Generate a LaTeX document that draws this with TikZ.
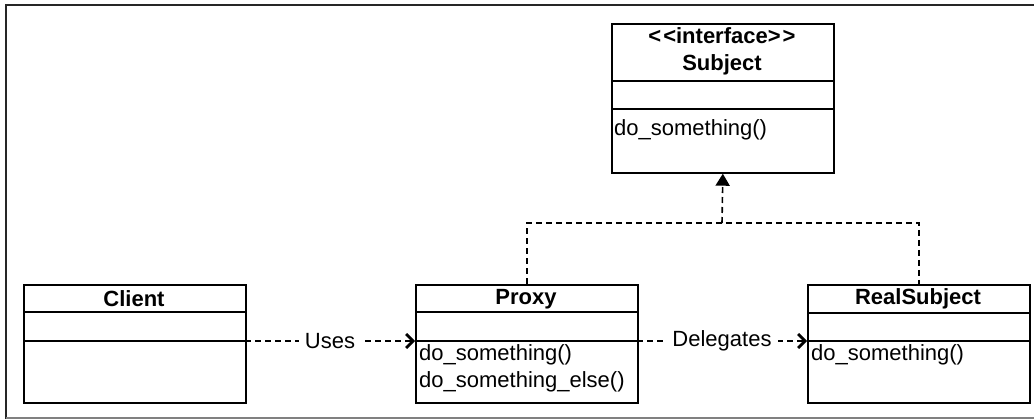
\documentclass[tikz,border=0pt]{standalone}
\usepackage{fontspec}
\setmainfont{Liberation Sans}
\usetikzlibrary{arrows.meta}

\tikzstyle{classbox} = [draw=black, line width=1.7pt, inner sep=0, minimum width=222pt, minimum height=118pt, anchor=north west]
\tikzstyle{title} = [font=\fontsize{22}{27}\selectfont\bfseries, inner sep=0, align=center]
\tikzstyle{method} = [font=\fontsize{22}{27}\selectfont, inner sep=0, anchor=west]
\tikzstyle{sep} = [line width=1.7pt]
\tikzstyle{dep} = [line width=1.6pt, dash pattern=on 6pt off 4pt]
\tikzstyle{uses} = [-{Straight Barb[length=7pt,width=14pt,line width=2.8pt]}]
\tikzstyle{realize} = [-{Triangle[length=12pt,width=14pt]}]
\tikzstyle{lbl} = [fill=white, font=\fontsize{22}{25}\selectfont, inner xsep=6pt, inner ysep=2pt]

\begin{document}
\begin{tikzpicture}[x=1pt,y=-1pt]
\useasboundingbox (0,0) rectangle (1034,419);

%   frame
	\draw[line width=2.2pt, black!85] (6,419) -- (6,5) -- (1034,5);
	\draw[line width=1.5pt, gray] (6,418) -- (1034,418);

%   interface
	\node[classbox, minimum height=149pt] (subject) at (611,23) {};
	\draw[sep] (subject.north west) ++(0,58) -- ++(222,0);
	\draw[sep] (subject.north west) ++(0,86) -- ++(222,0);
	\node[title] (subjecttitle) at (722,51) {\textless\kern2pt\textless interface\textgreater\kern2pt\textgreater\\Subject};
	\node[method] (subjectm1) at (614,130) {do\_something()};

%   classes
	\node[classbox] (client) at (23,284) {};
	\draw[sep] (client.north west) ++(0,28) -- ++(222,0);
	\draw[sep] (client.north west) ++(0,57) -- ++(222,0) coordinate (clientsep);
	\node[title] (clienttitle) at (134,299) {Client};

	\node[classbox] (proxy) at (415,284) {};
	\draw[sep] (proxy.north west) ++(0,28) -- ++(222,0);
	\draw[sep] (proxy.north west) ++(0,57) coordinate (proxysepw) -- ++(222,0) coordinate (proxysepe);
	\node[title] (proxytitle) at (526,299) {Proxy};
	\node[method] (proxym1) at (419,355) {do\_something()};
	\node[method] (proxym2) at (419,382) {do\_something\_else()};

	\node[classbox] (real) at (807,284) {};
	\draw[sep] (real.north west) ++(0,29) -- ++(222,0);
	\draw[sep] (real.north west) ++(0,57) coordinate (realsepw) -- ++(222,0);
	\node[title] (realtitle) at (918,299) {RealSubject};
	\node[method] (realm1) at (811,355) {do\_something()};

%   relations
	\coordinate (joint) at (722,223);
	\draw[dep] (proxy.north) |- (joint) -| (real.north);
	\draw[dep,realize] (joint) -- (subject.south);
	\draw[dep,uses] (clientsep) -- node[lbl]{Uses} (proxysepw);
	\draw[dep,uses] (proxysepe) -- node[lbl]{Delegates} (realsepw);

\end{tikzpicture}
\end{document}
